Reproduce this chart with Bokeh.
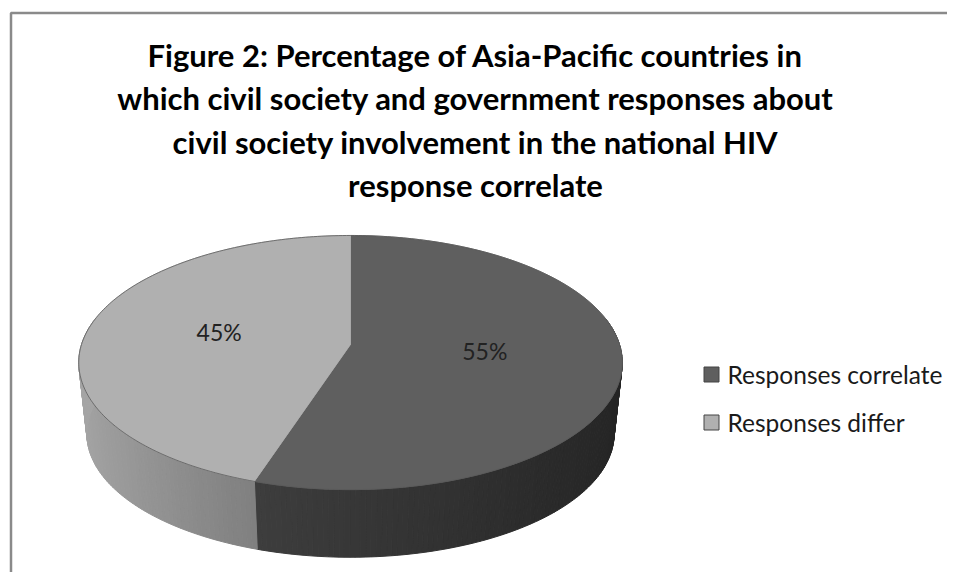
import numpy as np
from bokeh.plotting import figure
from bokeh.models import Range1d
from bokeh.core.properties import value
from bokeh.embed import file_html
from bokeh.resources import INLINE

# ---------------- data ----------------
title_lines = [
    "Figure 2: Percentage of Asia-Pacific countries in",
    "which civil society and government responses about",
    "civil society involvement in the national HIV",
    "response correlate",
]
categories = ["Responses correlate", "Responses differ"]
percent = [55, 45]
pct_labels = ["55%", "45%"]

# ---------------- style ----------------
top_colors = ["#5f5f5f", "#b0b0b0"]
# side shading: (X position on the disk, grey level) pairs per slice
side_shade_x = [[-0.35, 1.0], [-1.0, -0.3]]
side_shade_v = [[62, 36], [165, 127]]
FONT = "Lato"

W, H = 947, 572
p = figure(width=W, height=H, x_range=Range1d(0, W), y_range=Range1d(H, 0),
           output_backend="svg", toolbar_location=None, min_border=0,
           x_axis_location=None, y_axis_location=None)
p.grid.visible = False
p.outline_line_color = None
p.background_fill_color = "white"
p.border_fill_color = "white"

# frame of chart area
p.line(x=[10.5, 10.5, 1000], y=[1000, 12.5, 12.5], line_color="#8a8a8a", line_width=2.5)

# title
p.text(x=[475] * len(title_lines), y=[54 + 43.6 * i for i in range(len(title_lines))],
       text=title_lines, text_align="center", text_baseline="middle",
       text_font=value(FONT), text_font_style="bold", text_font_size="31px",
       text_color="#000000")

# ---------------- 3D pie geometry ----------------
CX, CY, A, B, P = 350.0, 344.0, 269.0, 124.5, 0.142
CYB, SB = 416.0, 0.97


def proj(phi_deg, r=1.0, cy=CY, s=1.0):
    ph = np.radians(phi_deg)
    X = r * np.sin(ph)
    Y = -r * np.cos(ph)
    w = 1 - P * Y
    return CX + A * s * X / w, cy + B * s * Y / w


total = float(sum(percent))
bounds = np.concatenate([[0.0], np.cumsum(percent) / total * 360.0])

# sides (drawn first)
xs_side, ys_side, col_side = [], [], []
for i in range(len(percent)):
    lo = max(bounds[i], 78.0)
    hi = min(bounds[i + 1], 282.0)
    if lo >= hi:
        continue
    n = int(np.ceil(hi - lo)) + 1
    angs = np.linspace(lo, hi, n)
    for a0, a1 in zip(angs[:-1], angs[1:]):
        tx0, ty0 = proj(a0)
        tx1, ty1 = proj(a1)
        bx0, by0 = proj(a0, cy=CYB, s=SB)
        bx1, by1 = proj(a1, cy=CYB, s=SB)
        xs_side.append([tx0, tx1, bx1, bx0])
        ys_side.append([ty0, ty1, by1, by0])
        Xm = np.sin(np.radians((a0 + a1) / 2))
        g = int(round(np.interp(Xm, side_shade_x[i], side_shade_v[i])))
        col_side.append("#%02x%02x%02x" % (g, g, g))

p.patches(xs=xs_side, ys=ys_side, fill_color=col_side, line_color=col_side, line_width=1)

# top faces
cxc, cyc = proj(0.0, r=0.0)
xs_top, ys_top = [], []
for i in range(len(percent)):
    n = int(np.ceil(bounds[i + 1] - bounds[i])) + 1
    angs = np.linspace(bounds[i], bounds[i + 1], n)
    ex, ey = proj(angs)
    xs_top.append(np.concatenate([[cxc], ex]).tolist())
    ys_top.append(np.concatenate([[cyc], ey]).tolist())
p.patches(xs=xs_top, ys=ys_top, fill_color=top_colors, line_color=top_colors, line_width=0.8)

# rim outline
rx, ry = proj(np.linspace(0, 360, 361))
p.line(x=rx, y=ry, line_color="#5a5a5a", line_width=0.8)

# percentage labels
mids = (bounds[:-1] + bounds[1:]) / 2
lx, ly = proj(mids, r=0.5)
p.text(x=lx, y=ly - 3, text=pct_labels, text_align="center", text_baseline="middle",
       text_font=value(FONT), text_font_size="23px", text_color="#222222")

# legend
LEG_X, LEG_Y0, LEG_DY = 711, 374, 48
ly_leg = [LEG_Y0 + LEG_DY * i for i in range(len(categories))]
p.rect(x=[LEG_X] * len(categories), y=ly_leg, width=15, height=15,
       fill_color=top_colors, line_color="#444444", line_width=1)
p.text(x=[LEG_X + 16] * len(categories), y=ly_leg, text=categories,
       text_align="left", text_baseline="middle",
       text_font=value(FONT), text_font_size="24.5px", text_color="#1a1a1a")

open("out.html", "w").write(file_html(p, INLINE))
